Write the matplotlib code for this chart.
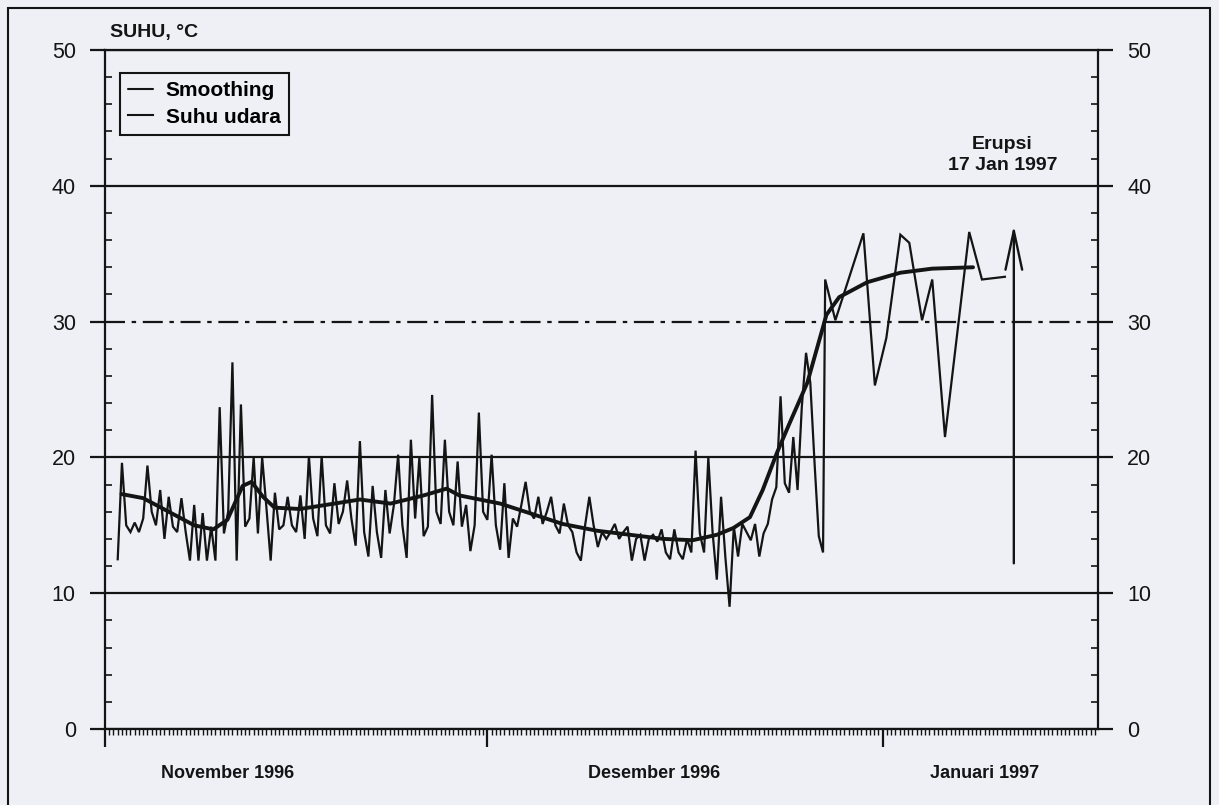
import numpy as np
import matplotlib
matplotlib.use("Agg")
import matplotlib.pyplot as plt
from matplotlib.patches import Rectangle
from matplotlib.ticker import MultipleLocator

# ---------------- data (days since 1 Nov 1996) ----------------
# air temperature, one reading every 8 hours starting day 1.0
start_day = 1.0
temp_8h = [
    12.5, 19.6, 15.0, 14.5, 15.2, 14.5, 15.5, 19.4, 16.0, 15.0,
    17.6, 14.0, 17.1, 14.9, 14.5, 17.0, 14.5, 12.4, 16.5, 12.4,
    15.9, 12.4, 14.9, 12.4, 23.7, 14.4, 16.0, 27.0, 12.4, 23.9,
    14.9, 15.5, 20.0, 14.4, 20.0, 16.3, 12.4, 17.4, 14.7, 15.0,
    17.1, 15.0, 14.5, 17.2, 14.0, 20.1, 15.5, 14.2, 20.1, 15.0,
    14.4, 18.1, 15.1, 16.0, 18.3, 15.5, 13.5, 21.2, 14.5, 12.7,
    17.9, 14.5, 12.6, 17.6, 14.4, 16.5, 20.2, 15.0, 12.6, 21.3,
    15.5, 20.0, 14.2, 14.9, 24.6, 16.0, 15.1, 21.3, 16.0, 15.0,
    19.7, 14.9, 16.5, 13.1, 15.0, 23.3, 16.0, 15.4, 20.2, 15.0,
    13.2, 18.1, 12.6, 15.5, 14.9, 16.5, 18.2, 16.0, 15.5, 17.1,
    15.1, 16.0, 17.1, 15.0, 14.4, 16.6, 15.0, 14.5, 13.0, 12.4,
    15.0, 17.1, 15.0, 13.4, 14.5, 14.0, 14.5, 15.1, 14.0, 14.5,
    14.9, 12.4, 14.0, 14.3, 12.4, 14.0, 14.3, 13.8, 14.7, 13.0,
    12.5, 14.7, 13.0, 12.5, 14.0, 13.0, 20.5, 14.4, 13.0, 20.0,
    14.5, 11.0, 17.1, 12.7, 9.0, 14.9, 12.7, 15.1, 14.5, 13.9,
    15.1, 12.7, 14.4, 15.1, 16.9, 17.8, 24.5, 18.1, 17.4, 21.5,
    17.6, 23.7, 27.7, 25.5, 19.6, 14.2, 13.0,
]
# sparse readings in January
late_days = [56.5, 57.3, 59.5, 60.4, 61.3, 62.4, 63.1, 64.1, 64.9, 65.9, 67.8, 68.8, 70.6]
late_vals = [33.1, 30.1, 36.5, 25.3, 28.8, 36.4, 35.8, 30.1, 33.1, 21.5, 36.6, 33.1, 33.3]

smooth_days = [1.3, 3.0, 5.0, 7.0, 8.5, 9.6, 10.8, 11.5, 12.4, 13.3, 15.3, 18.0, 20.0,
               22.4, 25.0, 26.8, 27.8, 29.4, 31.0, 33.3, 35.9, 38.6, 41.2, 43.8, 46.1,
               48.0, 49.3, 50.6, 51.6, 52.7, 53.7, 55.1, 56.6, 57.6, 59.8, 62.4, 64.9, 68.1]
smooth_vals = [17.3, 17.0, 16.0, 15.0, 14.7, 15.4, 17.9, 18.2, 17.1, 16.3, 16.2, 16.6, 16.9,
               16.6, 17.2, 17.7, 17.2, 16.9, 16.6, 15.9, 15.1, 14.6, 14.3, 14.0, 13.9,
               14.3, 14.8, 15.6, 17.6, 20.3, 22.5, 25.5, 30.5, 31.8, 32.9, 33.6, 33.9, 34.0]

eruption_day = 71.3
eruption_low, eruption_high = 12.2, 37.1

month_starts = [0, 30, 61]
month_labels = ["November 1996", "Desember 1996", "Januari 1997"]
month_label_pos = [9.6, 43.1, 69.0]

# ---------------- figure ----------------
ink = "#141414"
bg = "#eef0f5"
plt.rcParams["font.family"] = ["Liberation Sans", "DejaVu Sans"]

fig = plt.figure(figsize=(12.19, 8.05), dpi=100)
fig.patch.set_facecolor(bg)
ax = fig.add_axes([0.0861, 0.0944, 0.8146, 0.8435])
ax.set_facecolor(bg)

t = np.concatenate([start_day + np.arange(len(temp_8h)) / 3.0, late_days])
v = np.concatenate([temp_8h, late_vals])
data_line, = ax.plot(t, v, color=ink, lw=1.6, solid_joinstyle="miter", zorder=3)
smooth_line, = ax.plot(smooth_days, smooth_vals, color=ink, lw=2.8,
                       solid_capstyle="round", zorder=4)

ax.annotate("", xy=(eruption_day, eruption_high), xytext=(eruption_day, eruption_low),
            arrowprops=dict(arrowstyle="->,head_length=1.4,head_width=0.3",
                            lw=1.7, color=ink, mutation_scale=20,
                            shrinkA=0, shrinkB=0), zorder=5)

ax.set_xlim(0, 77.9)
ax.set_ylim(0, 50)

ax.yaxis.set_major_locator(MultipleLocator(10))
ax.yaxis.set_minor_locator(MultipleLocator(2))
ax.tick_params(axis="y", which="major", direction="out", length=11, width=1.6,
               labelsize=15.5, pad=10, left=True, right=True,
               labelleft=True, labelright=True, colors=ink)
ax.tick_params(axis="y", which="minor", direction="in", length=5, width=1.2,
               left=True, right=True, colors=ink)

ax.set_xticks(month_starts)
ax.set_xticklabels([])
ax.xaxis.set_minor_locator(MultipleLocator(1 / 3))
ax.tick_params(axis="x", which="major", direction="out", length=13, width=1.6, colors=ink)
ax.tick_params(axis="x", which="minor", direction="out", length=4, width=1.0, colors=ink)

for sp in ax.spines.values():
    sp.set_linewidth(1.6)
    sp.set_color(ink)

ax.grid(axis="y", which="major", color=ink, lw=1.6)
ax.set_axisbelow(True)
ylocs = ax.get_yticks()
for gl, yv in zip(ax.get_ygridlines(), ylocs):
    if abs(yv - 30) < 1e-6:
        gl.set_linestyle((0, (9, 3, 2, 3)))

for lab, pos in zip(month_labels, month_label_pos):
    ax.text(pos, -0.065, lab, transform=ax.get_xaxis_transform(), ha="center",
            va="center", fontsize=13, fontweight="bold", color=ink)

ax.text(70.4, 42.3, "Erupsi\n17 Jan 1997", ha="center", va="center", fontsize=14,
        fontweight="bold", color=ink, linespacing=1.3)

fig.text(110 / 1219, 1 - 33 / 805, "SUHU, °C", ha="left", va="center", fontsize=14,
         fontweight="bold", color=ink)

leg = ax.legend([smooth_line, data_line], ["Smoothing", "Suhu udara"],
                loc="upper left", bbox_to_anchor=(0.015, 0.966), borderaxespad=0,
                frameon=True, fancybox=False, framealpha=1, facecolor=bg,
                edgecolor=ink, handlelength=1.2, handletextpad=0.6,
                borderpad=0.4, labelspacing=0.35,
                prop={"size": 15, "weight": "bold"})
leg.get_frame().set_linewidth(1.5)
for line in leg.get_lines():
    line.set_linewidth(1.5)

fig.add_artist(Rectangle((8 / 1219, -0.02), 1202 / 1219, 1 - 8 / 805 + 0.02,
                         transform=fig.transFigure, fill=False, lw=1.5, ec=ink))

fig.savefig("out.png", dpi=100, facecolor=bg)
